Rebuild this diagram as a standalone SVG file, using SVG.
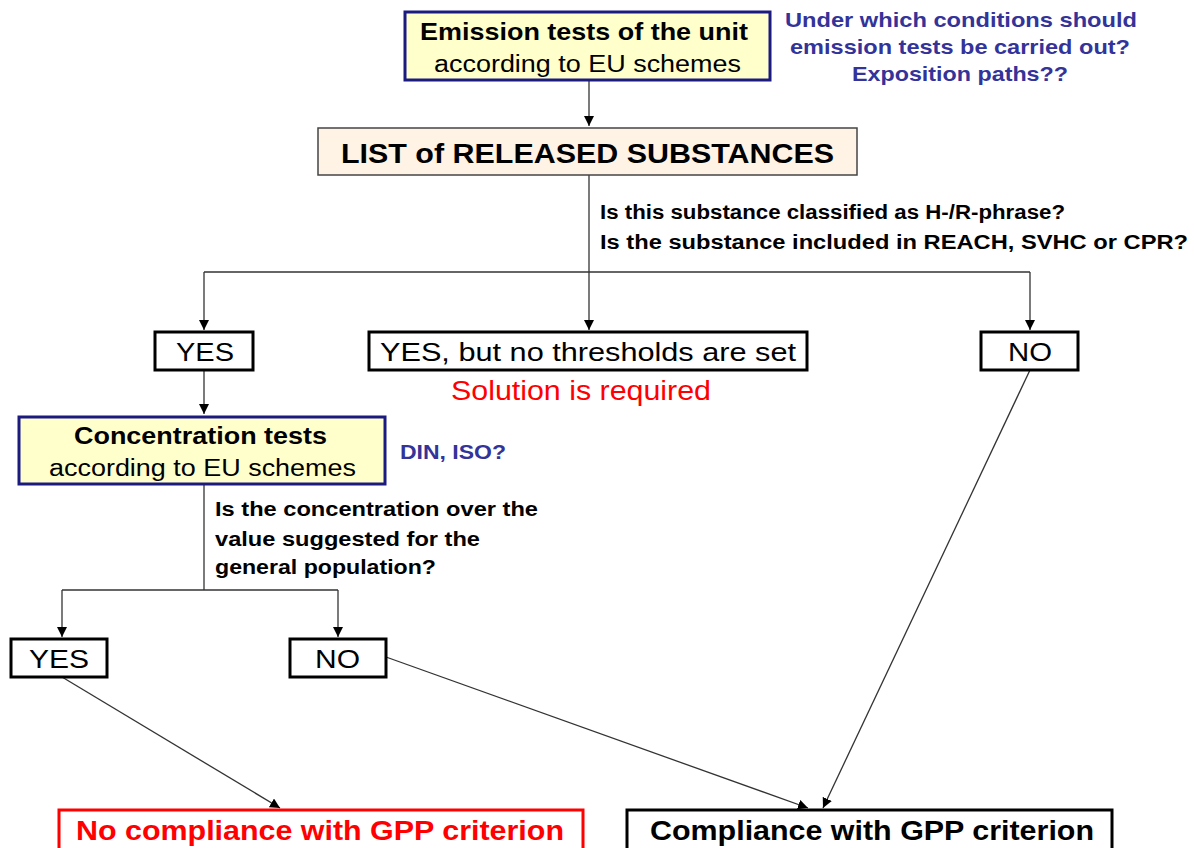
<svg xmlns="http://www.w3.org/2000/svg" width="1194" height="848" viewBox="0 0 1194 848">
<defs>
<marker id="arr" viewBox="0 0 10 10" refX="10" refY="5" markerWidth="10" markerHeight="10" markerUnits="userSpaceOnUse" orient="auto"><path d="M0,0 L10,5 L0,10 z" fill="#000"/></marker>
<style>
text{font-family:"Liberation Sans",Arial,sans-serif;}
.b{font-weight:bold;}
.blue{fill:#333399;font-weight:bold;font-size:21px;}
.q{font-weight:bold;font-size:20px;fill:#000;}
.yb{fill:#FFFFCC;stroke:#1a1a80;stroke-width:3;}
.wb{fill:#fff;stroke:#000;stroke-width:3;}
.ln{stroke:#333;stroke-width:1.3;fill:none;}
</style>
</defs>
<rect width="1194" height="848" fill="#fff"/>
<g id="connectors">
<path class="ln" d="M589,80 V126" marker-end="url(#arr)"/>
<path class="ln" d="M589,175 V272"/>
<path class="ln" d="M204,272 H1030"/>
<path class="ln" d="M204,272 V330" marker-end="url(#arr)"/>
<path class="ln" d="M589,272 V330" marker-end="url(#arr)"/>
<path class="ln" d="M1030,272 V330" marker-end="url(#arr)"/>
<path class="ln" d="M204,370 V414" marker-end="url(#arr)"/>
<path class="ln" d="M204,484 V590"/>
<path class="ln" d="M62,590 H338"/>
<path class="ln" d="M62,590 V637" marker-end="url(#arr)"/>
<path class="ln" d="M338,590 V637" marker-end="url(#arr)"/>
<path class="ln" d="M62,677 L280,808" marker-end="url(#arr)"/>
<path class="ln" d="M386,657 L808,808" marker-end="url(#arr)"/>
<path class="ln" d="M1030,370 L823,808" marker-end="url(#arr)"/>
</g>
<g id="emission">
<rect class="yb" x="405" y="12" width="365" height="68"/>
<text x="420" y="40" textLength="328" lengthAdjust="spacingAndGlyphs" class="b" font-size="24">Emission tests of the unit</text>
<text x="434" y="72" textLength="307" lengthAdjust="spacingAndGlyphs" font-size="23">according to EU schemes</text>
</g>
<g id="note-conditions">
<text class="blue" x="785" y="27" textLength="352" lengthAdjust="spacingAndGlyphs">Under which conditions should</text>
<text class="blue" x="790" y="54" textLength="340" lengthAdjust="spacingAndGlyphs">emission tests be carried out?</text>
<text class="blue" x="852" y="81" textLength="216" lengthAdjust="spacingAndGlyphs">Exposition paths??</text>
</g>
<g id="list">
<rect x="318" y="128" width="539" height="47" fill="#FFF3E6" stroke="#444" stroke-width="1.5"/>
<text x="341" y="163" textLength="493" lengthAdjust="spacingAndGlyphs" class="b" font-size="27">LIST of RELEASED SUBSTANCES</text>
</g>
<g id="question1">
<text class="q" x="600" y="219" textLength="465" lengthAdjust="spacingAndGlyphs">Is this substance classified as H-/R-phrase?</text>
<text class="q" x="600" y="249" textLength="588" lengthAdjust="spacingAndGlyphs">Is the substance included in REACH, SVHC or CPR?</text>
</g>
<g id="yes1">
<rect class="wb" x="155" y="332" width="98" height="38"/>
<text x="176" y="361" textLength="58" lengthAdjust="spacingAndGlyphs" font-size="26">YES</text>
</g>
<g id="yes-but">
<rect class="wb" x="369" y="332" width="438" height="38"/>
<text x="380" y="361" textLength="416" lengthAdjust="spacingAndGlyphs" font-size="26">YES, but no thresholds are set</text>
</g>
<g id="solution">
<text x="451" y="400" textLength="260" lengthAdjust="spacingAndGlyphs" font-size="27" fill="#ff0000">Solution is required</text>
</g>
<g id="no1">
<rect class="wb" x="981" y="332" width="97" height="38"/>
<text x="1008" y="361" textLength="44" lengthAdjust="spacingAndGlyphs" font-size="26">NO</text>
</g>
<g id="concentration">
<rect class="yb" x="19" y="417" width="366" height="67"/>
<text x="74" y="444" textLength="253" lengthAdjust="spacingAndGlyphs" class="b" font-size="23">Concentration tests</text>
<text x="49" y="476" textLength="307" lengthAdjust="spacingAndGlyphs" font-size="23">according to EU schemes</text>
</g>
<g id="note-din">
<text class="blue" x="400" y="459" textLength="106" lengthAdjust="spacingAndGlyphs">DIN, ISO?</text>
</g>
<g id="question2">
<text class="q" x="215" y="516" textLength="323" lengthAdjust="spacingAndGlyphs">Is the concentration over the</text>
<text class="q" x="215" y="546" textLength="265" lengthAdjust="spacingAndGlyphs">value suggested for the</text>
<text class="q" x="215" y="574" textLength="221" lengthAdjust="spacingAndGlyphs">general population?</text>
</g>
<g id="yes2">
<rect class="wb" x="11" y="639" width="96" height="38"/>
<text x="29" y="668" textLength="60" lengthAdjust="spacingAndGlyphs" font-size="26">YES</text>
</g>
<g id="no2">
<rect class="wb" x="290" y="639" width="96" height="38"/>
<text x="315" y="668" textLength="45" lengthAdjust="spacingAndGlyphs" font-size="26">NO</text>
</g>
<g id="no-compliance">
<rect x="59" y="810" width="524" height="42" fill="#fff" stroke="#ff0000" stroke-width="3"/>
<text x="76" y="840" textLength="488" lengthAdjust="spacingAndGlyphs" class="b" font-size="27" fill="#ff0000">No compliance with GPP criterion</text>
</g>
<g id="compliance">
<rect x="627" y="810" width="485" height="42" fill="#fff" stroke="#000" stroke-width="3"/>
<text x="650" y="840" textLength="444" lengthAdjust="spacingAndGlyphs" class="b" font-size="27">Compliance with GPP criterion</text>
</g>
</svg>
